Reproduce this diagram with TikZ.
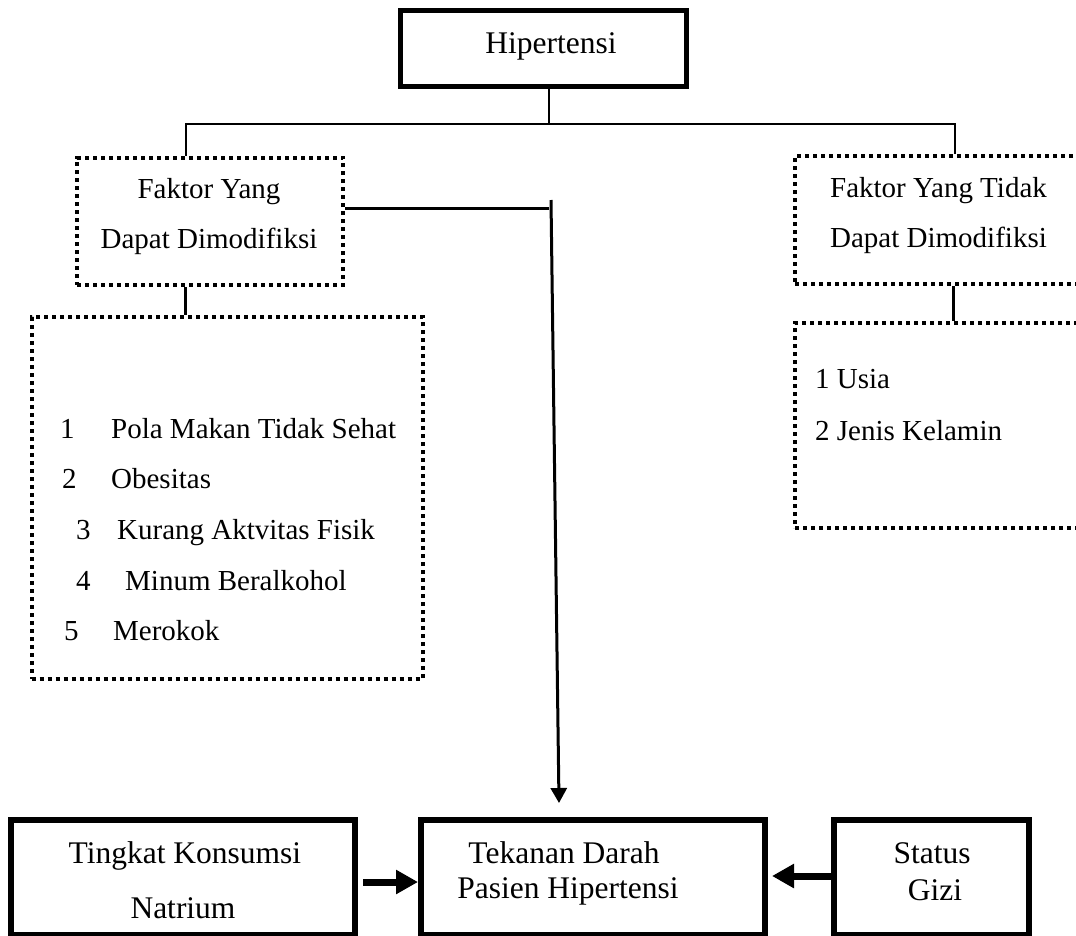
\documentclass[tikz,border=0pt]{standalone}
\usepackage{fontspec}
\setmainfont{Liberation Serif}
\usetikzlibrary{arrows.meta}
\begin{document}
\begin{tikzpicture}[x=1pt,y=-1pt,
  solidbox/.style={draw, line width=5pt, inner sep=0pt, rectangle},
  botbox/.style={draw, line width=6pt, inner sep=0pt, rectangle},
  dotbox/.style={draw, line width=4pt, dash pattern=on 4pt off 4pt, inner sep=0pt, rectangle},
  conn/.style={line width=3pt},
  txt/.style={inner sep=0pt, anchor=base, font=\fontsize{29}{35}\selectfont},
  bigtxt/.style={inner sep=0pt, anchor=base, font=\fontsize{31.5}{38}\selectfont},
  listtxt/.style={txt, anchor=base west},
  fat/.style={line width=7pt, -{Triangle[length=22pt,width=23pt]}},
  thinarrow/.style={line width=3pt, -{Triangle[length=15pt,width=16pt]}}]

\useasboundingbox (0,0) rectangle (1076,935);
\clip (0,0) rectangle (1076,935);

% boxes
\node[solidbox, minimum width=286pt, minimum height=76pt] (hip) at (543.5,48.5) {};
\node[dotbox, minimum width=266pt, minimum height=127.5pt] (lb) at (210,221.25) {};
\node[dotbox, minimum width=287pt, minimum height=128pt] (rb) at (938.5,220) {};
\node[dotbox, minimum width=391pt, minimum height=362pt] (lst) at (227,498) {};
\node[dotbox, minimum width=287pt, minimum height=205pt] (rl) at (938.5,425.5) {};
\node[botbox, minimum width=344pt, minimum height=115pt] (nat) at (183,877.5) {};
\node[botbox, minimum width=344pt, minimum height=115pt] (tek) at (593,877.5) {};
\node[botbox, minimum width=195pt, minimum height=115pt] (giz) at (931.5,877.5) {};

% texts
\node[bigtxt] (hipT) at (551,53) {Hipertensi};
\node[txt] (lbT1) at (209,198) {Faktor Yang};
\node[txt] (lbT2) at (209,248) {Dapat Dimodifiksi};
\node[txt] (rbT1) at (938.5,197) {Faktor Yang Tidak};
\node[txt] (rbT2) at (938.5,247) {Dapat Dimodifiksi};

\node[listtxt] (l1) at (60,438) {\makebox[51pt][l]{1}Pola Makan Tidak Sehat};
\node[listtxt] (l2) at (62,488) {\makebox[49pt][l]{2}Obesitas};
\node[listtxt] (l3) at (76,539) {\makebox[41pt][l]{3}Kurang Aktvitas Fisik};
\node[listtxt] (l4) at (76,590) {\makebox[49pt][l]{4}Minum Beralkohol};
\node[listtxt] (l5) at (64,640) {\makebox[49pt][l]{5}Merokok};

\node[listtxt] (r1) at (815,388) {1 Usia};
\node[listtxt] (r2) at (815,440) {2 Jenis Kelamin};

\node[bigtxt] (natT1) at (185,863) {Tingkat Konsumsi};
\node[bigtxt] (natT2) at (183,918) {Natrium};
\node[bigtxt] (tekT1) at (564,863) {Tekanan Darah};
\node[bigtxt] (tekT2) at (568,898) {Pasien Hipertensi};
\node[bigtxt] (gizT1) at (932,863) {Status};
\node[bigtxt] (gizT2) at (935,900) {Gizi};

% connectors
\coordinate (jH) at (549,124);
\draw[line width=1.3pt] (hip.south -| jH) -- (jH);
\coordinate (jL) at (186,124);
\coordinate (jR) at (955,124);
\draw[line width=2.8pt] (lb.north -| jL) -- (jL) -- (jR) -- (rb.north -| jR);
\coordinate (kL) at (185,301);
\draw[conn] (lb.south -| kL) -- (lst.north -| kL);
\coordinate (kR) at (953,303);
\draw[conn] (rb.south -| kR) -- (rl.north -| kR);
\coordinate (m1) at (549,208);
\draw[conn] (lb.east |- m1) -- (m1);
\coordinate (v0) at (551,200);
\coordinate (v1) at (559,803);
\draw[thinarrow] (v0) -- (v1);
\coordinate (a1) at (363,882);
\draw[fat] (a1) -- (tek.west |- a1);
\coordinate (a2) at (772,876);
\draw[fat] (giz.west |- a2) -- (a2);
\end{tikzpicture}
\end{document}
